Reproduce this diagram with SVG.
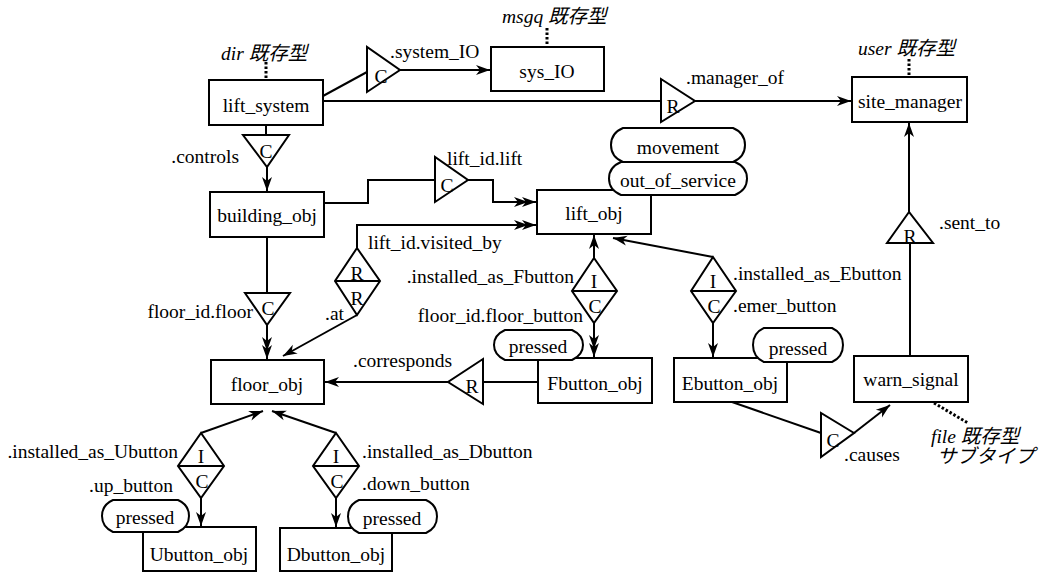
<svg xmlns="http://www.w3.org/2000/svg" width="1043" height="574" viewBox="0 0 1043 574">
<style>
text{font-family:"Liberation Serif","Noto Sans CJK JP",serif;font-size:19.5px;fill:#000}
.c{text-anchor:middle}
.e{text-anchor:end}
.it{font-style:italic}
.box{fill:#fff;stroke:#000;stroke-width:2}
.sh{fill:#fff;stroke:#000;stroke-width:2}
.ln{fill:none;stroke:#000;stroke-width:2}
.dot{fill:none;stroke:#000;stroke-width:3;stroke-dasharray:2.5 2}
</style>
<defs>
<marker id="a" markerUnits="userSpaceOnUse" markerWidth="30" markerHeight="20" viewBox="-25 -10 30 20" refX="0" refY="0" orient="auto" overflow="visible">
<path d="M-14,-5 L0,0 L-14,5 L-10,0 Z" fill="#000"/>
</marker>
<marker id="d" markerUnits="userSpaceOnUse" markerWidth="30" markerHeight="20" viewBox="-25 -10 30 20" refX="0" refY="0" orient="auto" overflow="visible">
<path d="M-14,-5 L0,0 L-14,5 L-10,0 Z M-22,-5 L-8,0 L-22,5 L-18,0 Z" fill="#000"/>
</marker>
</defs>
<rect width="1043" height="574" fill="#fff"/>

<g id="connectors">
<path class="ln" d="M323,96 L367,72"/>
<path class="ln" d="M400,70 L490,70" marker-end="url(#a)"/>
<path class="ln" d="M323,101 L661,101"/>
<path class="ln" d="M695,101 L851,101" marker-end="url(#a)"/>
<path class="ln" d="M266,125 L266,135"/>
<path class="ln" d="M267,167 L267,191" marker-end="url(#a)"/>
<path class="ln" d="M324,203 L368,203 L368,180 L435,180"/>
<path class="ln" d="M468,180 L493,180 L493,202 L536,202" marker-end="url(#d)"/>
<path class="ln" d="M267,237 L267,293"/>
<path class="ln" d="M267,325 L267,359" marker-end="url(#d)"/>
<path class="ln" d="M357,248 L357,225 L536,225" marker-end="url(#d)"/>
<path class="ln" d="M357,315 L283,356" marker-end="url(#a)"/>
<path class="ln" d="M594,258 L594,235" marker-end="url(#a)"/>
<path class="ln" d="M594,323 L594,357" marker-end="url(#d)"/>
<path class="ln" d="M713,257 L613,238" marker-end="url(#a)"/>
<path class="ln" d="M713,323 L713,357" marker-end="url(#a)"/>
<path class="ln" d="M538,382 L483,382"/>
<path class="ln" d="M448,382 L325,382" marker-end="url(#a)"/>
<path class="ln" d="M910,356 L910,243"/>
<path class="ln" d="M909,212 L909,123" marker-end="url(#a)"/>
<path class="ln" d="M732,402 L821,433"/>
<path class="ln" d="M854,433 L890,405" marker-end="url(#a)"/>
<path class="ln" d="M201,433 L263,411" marker-end="url(#a)"/>
<path class="ln" d="M201,498 L201,526" marker-end="url(#a)"/>
<path class="ln" d="M336,433 L272,411" marker-end="url(#a)"/>
<path class="ln" d="M336,498 L336,527" marker-end="url(#a)"/>
<path class="dot" d="M266,62 L266,80"/>
<path class="dot" d="M547,28 L547,47"/>
<path class="dot" d="M909,59 L909,77"/>
<path class="dot" d="M934,403 L968,423"/>
</g>

<g id="rel-system_IO"><polygon class="sh" points="367,47 367,92 400,70"/><text x="381" y="83" class="c">C</text><text x="390" y="58">.system_IO</text></g>
<g id="rel-controls"><polygon class="sh" points="243,135 289,135 267,167"/><text x="266" y="158" class="c">C</text><text x="239" y="163" class="e">.controls</text></g>
<g id="rel-lift"><polygon class="sh" points="435,157 435,202 468,180"/><text x="447" y="192" class="c">C</text><text x="447" y="165">lift_id.lift</text></g>
<g id="rel-manager_of"><polygon class="sh" points="661,79 661,122 695,101"/><text x="673" y="113" class="c">R</text><text x="686" y="84">.manager_of</text></g>
<g id="rel-floor"><polygon class="sh" points="245,293 290,293 267,325"/><text x="268" y="315" class="c">C</text><text x="253" y="318" class="e">floor_id.floor</text></g>
<g id="rel-corresponds"><polygon class="sh" points="483,359 483,404 448,382"/><text x="472" y="393" class="c">R</text><text x="353" y="367">.corresponds</text></g>
<g id="rel-sent_to"><polygon class="sh" points="909,212 887,243 933,243"/><text x="910" y="243" class="c">R</text><text x="939" y="229">.sent_to</text></g>
<g id="rel-causes"><polygon class="sh" points="821,413 821,457 854,433"/><text x="833" y="447" class="c">C</text><text x="844" y="461">.causes</text></g>

<g id="rel-visited_by"><polygon class="sh" points="357,248 380,281 357,315 335,281"/><path class="ln" d="M335,281 L380,281"/><text x="357" y="280" class="c">R</text><text x="357" y="305" class="c">R</text><text x="368" y="249">lift_id.visited_by</text><text x="325" y="320">.at</text></g>
<g id="rel-Fbutton"><polygon class="sh" points="594,258 617,291 594,323 572,291"/><path class="ln" d="M572,291 L617,291"/><text x="594" y="288" class="c">I</text><text x="595" y="313" class="c">C</text><text x="574" y="283" class="e">.installed_as_Fbutton</text><text x="583" y="322" class="e">floor_id.floor_button</text></g>
<g id="rel-Ebutton"><polygon class="sh" points="713,257 736,291 713,323 691,291"/><path class="ln" d="M691,291 L736,291"/><text x="713" y="288" class="c">I</text><text x="714" y="313" class="c">C</text><text x="733" y="280">.installed_as_Ebutton</text><text x="733" y="312">.emer_button</text></g>
<g id="rel-Ubutton"><polygon class="sh" points="201,433 224,466 201,498 178,466"/><path class="ln" d="M178,466 L224,466"/><text x="201" y="463" class="c">I</text><text x="202" y="488" class="c">C</text><text x="178" y="458" class="e">.installed_as_Ubutton</text><text x="173" y="492" class="e">.up_button</text></g>
<g id="rel-Dbutton"><polygon class="sh" points="336,433 359,466 336,498 313,466"/><path class="ln" d="M313,466 L359,466"/><text x="336" y="463" class="c">I</text><text x="337" y="488" class="c">C</text><text x="362" y="458">.installed_as_Dbutton</text><text x="362" y="490">.down_button</text></g>

<g id="lift_system"><rect class="box" x="209" y="80" width="114" height="45"/><text x="266" y="112" class="c">lift_system</text><text x="221" y="60" class="it">dir 既存型</text></g>
<g id="sys_IO"><rect class="box" x="491" y="47" width="113" height="44"/><text x="547" y="78" class="c">sys_IO</text><text x="502" y="23" class="it">msgq 既存型</text></g>
<g id="site_manager"><rect class="box" x="852" y="77" width="115" height="45"/><text x="910" y="108" class="c">site_manager</text><text x="858" y="55" class="it">user 既存型</text></g>
<g id="building_obj"><rect class="box" x="210" y="192" width="114" height="45"/><text x="267" y="222" class="c">building_obj</text></g>
<g id="lift_obj"><rect class="box" x="537" y="190" width="114" height="44"/><text x="594" y="220" class="c">lift_obj</text>
<path class="sh" d="M623,128 L733,128 Q745,133 745,145 Q745,157 733,162 L623,162 Q611,157 611,145 Q611,133 623,128 Z"/><text x="678" y="154" class="c">movement</text>
<path class="sh" d="M621,162 L735,162 Q747,167 747,178.5 Q747,190 735,195 L621,195 Q609,190 609,178.5 Q609,167 621,162 Z"/><text x="678" y="187" class="c">out_of_service</text></g>
<g id="floor_obj"><rect class="box" x="211" y="360" width="113" height="44"/><text x="267" y="391" class="c">floor_obj</text></g>
<g id="Fbutton_obj"><rect class="box" x="538" y="358" width="114" height="45"/><text x="595" y="390" class="c">Fbutton_obj</text>
<path class="sh" d="M505,330 L572,330 Q583,335 583,345 Q583,355 572,360 L505,360 Q494,355 494,345 Q494,335 505,330 Z"/><text x="538" y="353" class="c">pressed</text></g>
<g id="Ebutton_obj"><rect class="box" x="674" y="358" width="113" height="44"/><text x="730" y="390" class="c">Ebutton_obj</text>
<path class="sh" d="M764,328 L832,328 Q843,333 843,345 Q843,357 832,362 L764,362 Q753,357 753,345 Q753,333 764,328 Z"/><text x="798" y="355" class="c">pressed</text></g>
<g id="warn_signal"><rect class="box" x="854" y="356" width="114" height="46"/><text x="911" y="386" class="c">warn_signal</text><text x="931" y="443" class="it">file 既存型</text><text x="937" y="463" class="it">サブタイプ</text></g>
<g id="Ubutton_obj"><rect class="box" x="143" y="527" width="113" height="44"/><text x="199" y="561" class="c">Ubutton_obj</text>
<path class="sh" d="M113,500 L178,500 Q189,505 189,516 Q189,527 178,532 L113,532 Q102,527 102,516 Q102,505 113,500 Z"/><text x="145" y="524" class="c">pressed</text></g>
<g id="Dbutton_obj"><rect class="box" x="280" y="528" width="112" height="43"/><text x="336" y="561" class="c">Dbutton_obj</text>
<path class="sh" d="M359,500 L426,500 Q437,505 437,516.5 Q437,528 426,533 L359,533 Q348,528 348,516.5 Q348,505 359,500 Z"/><text x="392" y="525" class="c">pressed</text></g>
</svg>
